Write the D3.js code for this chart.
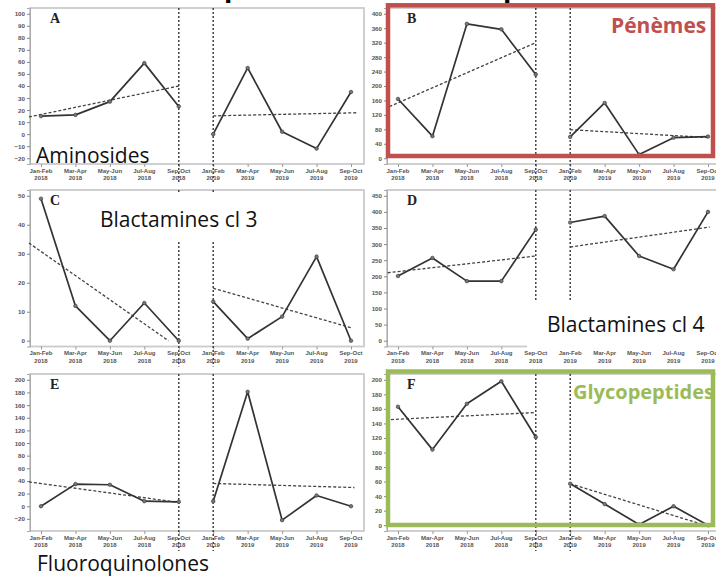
<!DOCTYPE html>
<html>
<head>
<meta charset="utf-8">
<script src="https://cdn.jsdelivr.net/npm/d3@7"></script>
<style>
  html, body { margin: 0; padding: 0; background: #fff; }
  svg { display: block; }
</style>
</head>
<body>
<svg id="chart" width="716" height="577"></svg>
<script>
// ---------- DATA ----------
const periods = ["Jan-Feb","Mar-Apr","May-Jun","Jul-Aug","Sep-Oct","Jan-Feb","Mar-Apr","May-Jun","Jul-Aug","Sep-Oct"];
const years   = ["2018","2018","2018","2018","2018","2019","2019","2019","2019","2019"];

const valuesA = [15, 16, 27, 59, 23, 0, 55, 2, -12, 35];
const valuesB = [164, 61, 372, 357, 232, 59, 153, 10, 57, 60];
const valuesC = [49, 12, 0, 13, 0, 13.5, 0.7, 8.3, 29, 0];
const valuesD = [201, 257, 185, 185, 345, 367, 387, 263, 222, 400];
const valuesE = [0, 35, 34, 8, 7, 7.7, 181, -22, 17, 0];
const valuesF = [163, 104, 167, 198, 121, 57, 29, 1, 26, 0];

// trend segments: [startIndex, startValue, endIndex, endValue]
const trendA = [[-0.35, 14.3, 4, 40], [5, 15.2, 9.2, 17.8]];
const trendB = [[-0.25, 143, 4, 320], [5, 79, 9.05, 57]];
const trendC = [[-0.35, 33.7, 3.7, 0], [5, 18.1, 9, 4.5]];
const trendD = [[-0.3, 211, 4, 263], [5, 291, 9.05, 353]];
const trendE = [[-0.35, 38.5, 4, 6], [5, 36, 9.1, 29.6]];
const trendF = [[-0.35, 145, 4, 155], [5, 57, 9.05, -2]];

const yLimA = [-20, 100], yTicksA = d3.range(-20, 101, 10);
const yLimB = [0, 400],   yTicksB = d3.range(0, 401, 40);
const yLimC = [0, 50],    yTicksC = d3.range(0, 51, 10);
const yLimD = [0, 450],   yTicksD = d3.range(0, 451, 50);
const yLimE = [-30, 200], yTicksE = d3.range(-20, 201, 20);
const yLimF = [0, 200],   yTicksF = d3.range(0, 201, 20);

const panelLetters = ["A","B","C","D","E","F"];
const classLabels = ["Aminosides","Pénèmes","Blactamines cl 3","Blactamines cl 4","Fluoroquinolones","Glycopeptides"];

// ---------- LAYOUT ----------
const panels = [
  {letter: panelLetters[0], values: valuesA, trend: trendA, ylim: yLimA, ticks: yTicksA, col: 0, row: 0},
  {letter: panelLetters[1], values: valuesB, trend: trendB, ylim: yLimB, ticks: yTicksB, col: 1, row: 0},
  {letter: panelLetters[2], values: valuesC, trend: trendC, ylim: yLimC, ticks: yTicksC, col: 0, row: 1},
  {letter: panelLetters[3], values: valuesD, trend: trendD, ylim: yLimD, ticks: yTicksD, col: 1, row: 1},
  {letter: panelLetters[4], values: valuesE, trend: trendE, ylim: yLimE, ticks: yTicksE, col: 0, row: 2},
  {letter: panelLetters[5], values: valuesF, trend: trendF, ylim: yLimF, ticks: yTicksF, col: 1, row: 2}
];
const colX = [0, 357];
const rowTop = [8, 190, 374];
const frameH = [156, 156.5, 157];
const axisX = 30, frameRight = 364;

const svg = d3.select("#chart");
const x = d3.scaleLinear().domain([0, 9]).range([41, 351]);

const baseLayer = svg.append("g");
const overlayLayer = svg.append("g");
const labelLayer = svg.append("g");

panels.forEach(p => {
  const g = baseLayer.append("g").attr("transform", `translate(${colX[p.col]},0)`);
  const t0 = rowTop[p.row], t1 = t0 + frameH[p.row];
  const r = p.ylim[1] - p.ylim[0];
  const y = d3.scaleLinear().domain([p.ylim[0] - 0.04 * r, p.ylim[1] + 0.04 * r]).range([t1, t0]);

  // frame
  g.append("rect").attr("x", axisX).attr("y", t0).attr("width", frameRight - axisX).attr("height", t1 - t0)
    .attr("fill", "none").attr("stroke", "#cbcbcb").attr("stroke-width", 1.8);

  // y axis
  const ya = g.append("g").attr("transform", `translate(${axisX},0)`)
    .call(d3.axisLeft(y).tickValues(p.ticks).tickSize(3).tickPadding(2));
  ya.select(".domain").attr("stroke", "#aaa");
  ya.selectAll(".tick line").attr("stroke", "#888");
  ya.selectAll(".tick text").attr("font-family", "Liberation Sans, Arial, sans-serif")
    .attr("font-size", 6.2).attr("font-weight", "bold").attr("fill", "#555");

  // x axis ticks
  const xa = g.append("g").attr("transform", `translate(0,${t1})`)
    .call(d3.axisBottom(x).tickValues(d3.range(10)).tickSize(3).tickFormat(() => ""));
  xa.select(".domain").attr("stroke", "none");
  xa.selectAll(".tick line").attr("stroke", "#999");

  // x labels on label layer
  const tl = labelLayer.append("g").attr("transform", `translate(${colX[p.col]},0)`);
  d3.range(10).forEach(i => {
    const tx = tl.append("text").attr("x", x(i)).attr("text-anchor", "middle")
      .attr("font-family", "Liberation Sans, Arial, sans-serif").attr("font-size", 6)
      .attr("font-weight", "bold").attr("fill", "#555");
    tx.append("tspan").attr("x", x(i)).attr("y", t1 + 8.8).text(periods[i]);
    tx.append("tspan").attr("x", x(i)).attr("y", t1 + 16).text(years[i]);
  });

  // vertical dashed separators
  [4, 5].forEach(i => {
    g.append("line").attr("x1", x(i)).attr("x2", x(i)).attr("y1", t0).attr("y2", t1 + 20)
      .attr("stroke", "#444").attr("stroke-width", 1.5).attr("stroke-dasharray", "2,2");
  });

  // trend lines
  p.trend.forEach(s => {
    g.append("line").attr("x1", x(s[0])).attr("y1", y(s[1])).attr("x2", x(s[2])).attr("y2", y(s[3]))
      .attr("stroke", "#444").attr("stroke-width", 1.3).attr("stroke-dasharray", "3,2");
  });

  // data lines (two segments)
  const line = d3.line().x(d => x(d[0])).y(d => y(d[1]));
  [[0, 5], [5, 10]].forEach(([a, b]) => {
    const pts = d3.range(a, b).map(i => [i, p.values[i]]);
    g.append("path").attr("d", line(pts)).attr("fill", "none")
      .attr("stroke", "#333").attr("stroke-width", 1.7).attr("stroke-linejoin", "round");
  });
  g.selectAll("circle.pt").data(p.values).enter().append("circle").attr("class", "pt")
    .attr("cx", (d, i) => x(i)).attr("cy", d => y(d)).attr("r", 1.8)
    .attr("fill", "#777").attr("stroke", "#333").attr("stroke-width", 0.6);

  // panel letter
  g.append("text").attr("x", 50).attr("y", t0 + 15).text(p.letter)
    .attr("font-family", "Liberation Serif, Times New Roman, serif").attr("font-weight", "bold")
    .attr("font-size", 14).attr("fill", "#222");
});

// ---------- OVERLAYS ----------
const labelFont = "'Open Sans', sans-serif";
overlayLayer.append("rect").attr("x", 35).attr("y", 145).attr("width", 122).attr("height", 18).attr("fill", "#fff");
overlayLayer.append("rect").attr("x", 95).attr("y", 193).attr("width", 170).attr("height", 47).attr("fill", "#fff");
overlayLayer.append("rect").attr("x", 527).attr("y", 300).attr("width", 189).attr("height", 68).attr("fill", "#fff");

overlayLayer.append("text").attr("x", 36).attr("y", 163).text(classLabels[0])
  .attr("font-family", labelFont).attr("font-size", 21).attr("fill", "#111");
overlayLayer.append("text").attr("x", 100).attr("y", 227).text(classLabels[2])
  .attr("font-family", labelFont).attr("font-size", 21).attr("fill", "#111");
overlayLayer.append("text").attr("x", 547).attr("y", 332).text(classLabels[3])
  .attr("font-family", labelFont).attr("font-size", 21).attr("fill", "#111");
overlayLayer.append("text").attr("x", 37).attr("y", 571).text(classLabels[4])
  .attr("font-family", labelFont).attr("font-size", 21).attr("fill", "#111");

overlayLayer.append("rect").attr("x", 388).attr("y", 5.3).attr("width", 325).attr("height", 150.7)
  .attr("fill", "none").attr("stroke", "#c0504d").attr("stroke-width", 4.5);
overlayLayer.append("text").attr("x", 611).attr("y", 33).text(classLabels[1])
  .attr("font-family", labelFont).attr("font-weight", "bold").attr("font-size", 21).attr("fill", "#c0504d");

overlayLayer.append("rect").attr("x", 388).attr("y", 371.5).attr("width", 325).attr("height", 153.5)
  .attr("fill", "none").attr("stroke", "#9bbb59").attr("stroke-width", 4.5);
overlayLayer.append("text").attr("x", 573).attr("y", 399).text(classLabels[5])
  .attr("font-family", labelFont).attr("font-weight", "bold").attr("font-size", 20).attr("fill", "#9bbb59");

["p", "p"].forEach((c, i) => {
  overlayLayer.append("text").attr("x", [224, 503][i]).attr("y", -3).text(c)
    .attr("font-family", "Liberation Sans, Arial, sans-serif").attr("font-weight", "bold")
    .attr("font-size", 30).attr("fill", "#000");
});
</script>
</body>
</html>
